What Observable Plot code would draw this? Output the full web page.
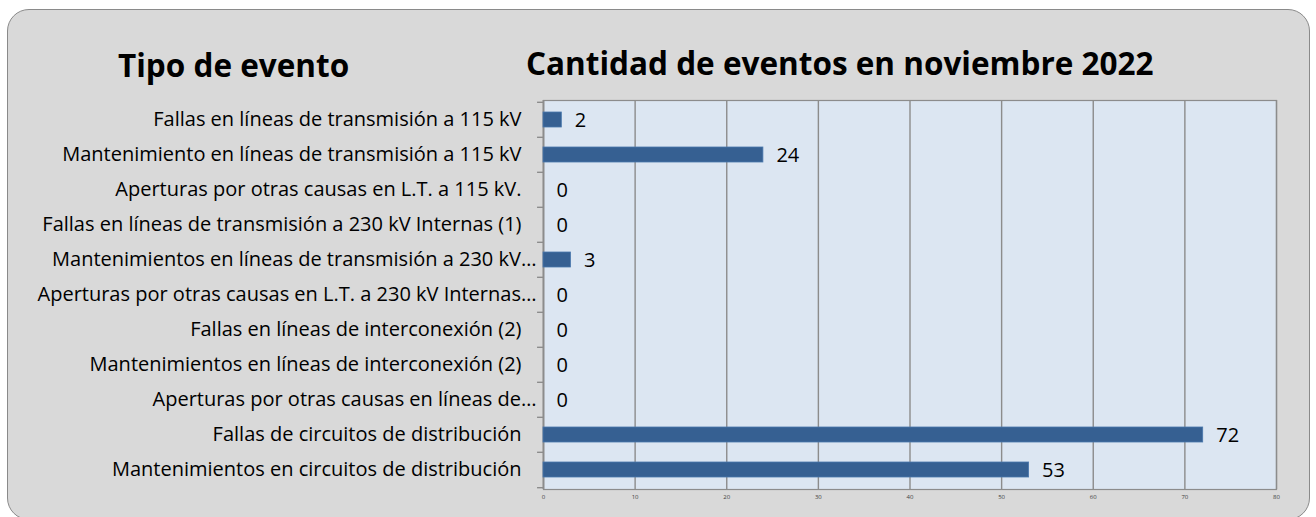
<!DOCTYPE html>
<html>
<head>
<meta charset="utf-8">
<script src="https://cdn.jsdelivr.net/npm/d3@7"></script>
<script src="https://cdn.jsdelivr.net/npm/@observablehq/plot@0.6"></script>
<style>
  html, body { margin: 0; padding: 0; background: #ffffff; width: 1316px; height: 517px; overflow: hidden; }
  #frame { position: absolute; left: 7px; top: 9px; width: 1303px; height: 511px; box-sizing: border-box;
           border: 1.5px solid #8a8a8a; border-radius: 22px; background: #d9d9d9; }
  .title { position: absolute; font-family: "Open Sans", sans-serif; font-weight: bold; font-size: 31.5px;
           line-height: 1; color: #000; white-space: nowrap; }
  #chart { position: absolute; left: 0; top: 0; }
  #chart svg { background: transparent; overflow: visible; }
</style>
</head>
<body>
<div id="frame"></div>
<div class="title" style="left:118px; top:49px;">Tipo de evento</div>
<div class="title" style="left:526px; top:47px;">Cantidad de eventos en noviembre 2022</div>
<div id="chart"></div>
<script>
const categories = [
  "Fallas en líneas de transmisión a 115 kV",
  "Mantenimiento en líneas de transmisión a 115 kV",
  "Aperturas por otras causas en L.T. a 115 kV.",
  "Fallas en líneas de transmisión a 230 kV Internas (1)",
  "Mantenimientos en líneas de transmisión a 230 kV…",
  "Aperturas por otras causas en L.T. a 230 kV Internas…",
  "Fallas en líneas de interconexión (2)",
  "Mantenimientos en líneas de interconexión (2)",
  "Aperturas por otras causas en líneas de…",
  "Fallas de circuitos de distribución",
  "Mantenimientos en circuitos de distribución"
];
const values = [2, 24, 0, 0, 3, 0, 0, 0, 0, 72, 53];
const xTicks = [0, 10, 20, 30, 40, 50, 60, 70, 80];

const data = categories.map((c, i) => ({category: c, value: values[i]}));
const fullLabels = categories.filter(c => !c.endsWith("…"));
const cutLabels = categories.filter(c => c.endsWith("…"));

const W = 1316, H = 517, mT = 100, mB = 28, mL = 543, mR = 40;
const step = (H - mT - mB) / categories.length;
const font = "'Open Sans', sans-serif";

const chart = Plot.plot({
  width: W, height: H,
  marginTop: mT, marginBottom: mB, marginLeft: mL, marginRight: mR,
  style: {background: "transparent", color: "#000", fontFamily: font},
  x: {domain: [0, 80], ticks: xTicks, label: null},
  y: {domain: categories, paddingInner: 0.58, paddingOuter: 0.29, label: null, axis: null},
  marks: [
    Plot.frame({fill: "#dce6f2", stroke: "#8c8c8c", strokeWidth: 1.2}),
    Plot.ruleX(xTicks, {stroke: "#8c8c8c", strokeWidth: 1.4}),
    Plot.ruleX([0], {stroke: "#8c8c8c", strokeWidth: 1.6}),
    Plot.ruleY(categories, {y: d => d, x1: -0.65, x2: 0, dy: -step / 2, stroke: "#8c8c8c", strokeWidth: 1.4}),
    Plot.ruleY([categories[categories.length - 1]], {y: d => d, x1: -0.65, x2: 0, dy: step / 2, stroke: "#8c8c8c", strokeWidth: 1.4}),
    Plot.barX(data, {x: "value", y: "category", fill: "#366092", stroke: "#4a78ad", strokeWidth: 0.8}),
    Plot.text(data, {x: "value", y: "category", text: d => String(d.value), textAnchor: "start", dx: 13, dy: 1,
                     fontSize: 20, fill: "#000"}),
    Plot.text(fullLabels, {x: 0, y: d => d, text: d => d, textAnchor: "end", dx: -22, dy: 0, fontSize: 20, fill: "#000"}),
    Plot.text(cutLabels, {x: 0, y: d => d, text: d => d, textAnchor: "end", dx: -7, dy: 0, fontSize: 20, fill: "#000"}),
    Plot.axisX({ticks: xTicks, tickSize: 0, tickPadding: 5, fontSize: 6, label: null, fill: "#404040"})
  ]
});
document.getElementById("chart").appendChild(chart);
</script>
</body>
</html>
